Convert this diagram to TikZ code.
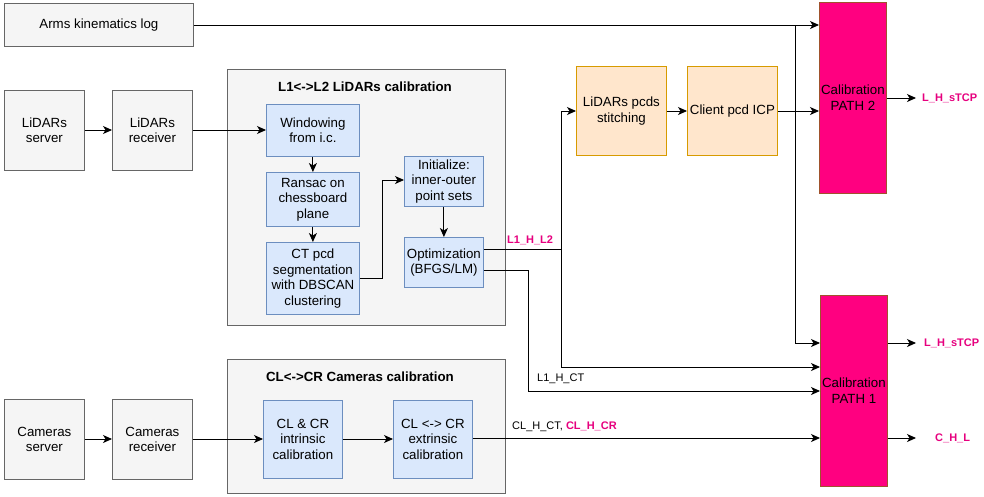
\documentclass[tikz,border=0pt]{standalone}
\usepackage{fontspec}
\setmainfont{Liberation Sans}
\usetikzlibrary{arrows.meta,calc}
\definecolor{grayfill}{HTML}{F5F5F5}
\definecolor{grayline}{HTML}{666666}
\definecolor{bluefill}{HTML}{DAE8FC}
\definecolor{blueline}{HTML}{6C8EBF}
\definecolor{orangefill}{HTML}{FFE6CC}
\definecolor{orangeline}{HTML}{D79B00}
\definecolor{pathfill}{HTML}{FF0080}
\definecolor{pathline}{HTML}{A0522D}
\definecolor{labelpink}{HTML}{E6007E}
\tikzset{
  x=1pt, y=-1pt,
  base/.style={anchor=north west, inner sep=0pt, align=center, line width=0.8pt,
    font=\fontsize{13.3}{15.5}\selectfont},
  graybox/.style={base, draw=grayline, fill=grayfill},
  groupbox/.style={base, draw=grayline, fill=grayfill},
  bluebox/.style={base, draw=blueline, fill=bluefill},
  orangebox/.style={base, draw=orangeline, fill=orangefill},
  pathbox/.style={base, draw=pathline, fill=pathfill},
  grouptitle/.style={font=\fontsize{13.3}{15.5}\selectfont\bfseries, inner sep=0pt},
  conn/.style={draw, line width=0.9pt, -{Stealth[length=9pt,width=8pt,inset=2.5pt]}},
  plain/.style={draw, line width=0.9pt},
  outlabel/.style={font=\fontsize{11}{13}\selectfont\bfseries, text=labelpink, anchor=west, inner sep=0pt},
  edgelabel/.style={font=\fontsize{11}{13}\selectfont, anchor=south west, inner sep=0pt},
}
\begin{document}
\begin{tikzpicture}
\useasboundingbox (0,0) rectangle (984,496);

% group containers
\node[groupbox, minimum width=278, minimum height=256] (lgroup) at (227,69) {};
\node[grouptitle] (ltitle) at (365,87) {L1<->L2 LiDARs calibration};
\node[groupbox, minimum width=278, minimum height=134] (cgroup) at (227,359) {};
\node[grouptitle] (ctitle) at (360,377) {CL<->CR Cameras calibration};

% sources
\node[graybox, minimum width=189, minimum height=43] (arms) at (4,3) {Arms kinematics log};
\node[graybox, minimum width=80, minimum height=80] (lserv) at (4,90) {LiDARs\\server};
\node[graybox, minimum width=80, minimum height=80] (lrecv) at (112,90) {LiDARs\\receiver};
\node[graybox, minimum width=80, minimum height=80] (cserv) at (4,399) {Cameras\\server};
\node[graybox, minimum width=80, minimum height=80] (crecv) at (112,399) {Cameras\\receiver};

% LiDAR calibration steps
\node[bluebox, minimum width=93, minimum height=52] (win) at (266,104) {Windowing\\from i.c.};
\node[bluebox, minimum width=93, minimum height=54] (ran) at (266,172) {Ransac on\\chessboard\\plane};
\node[bluebox, minimum width=93, minimum height=72] (ct) at (266,242) {CT pcd\\segmentation\\with DBSCAN\\clustering};
\node[bluebox, minimum width=79, minimum height=50] (init) at (404,156) {Initialize:\\inner-outer\\point sets};
\node[bluebox, minimum width=79, minimum height=50] (opt) at (404,237) {Optimization\\(BFGS/LM)};

% camera calibration steps
\node[bluebox, minimum width=79, minimum height=78] (intr) at (263,400) {CL \& CR\\intrinsic\\calibration};
\node[bluebox, minimum width=79, minimum height=78] (extr) at (393,400) {CL <-> CR\\extrinsic\\calibration};

% point cloud stitching
\node[orangebox, minimum width=90, minimum height=89] (stitch) at (576,66) {LiDARs pcds\\stitching};
\node[orangebox, minimum width=90, minimum height=89] (icp) at (687,66) {Client pcd ICP};

% calibration paths
\node[pathbox, minimum width=67, minimum height=191] (path2) at (819,2) {Calibration\\PATH 2};
\node[pathbox, minimum width=67, minimum height=191] (path1) at (820,295) {Calibration\\PATH 1};

% routing points
\coordinate (armsdrop) at (795,25);
\coordinate (l2split) at (561,249);
\coordinate (ctbend) at (528,270);
\coordinate (ctup) at (382,180);

% connectors
\draw[conn] (arms.east |- armsdrop) -- (path2.west |- armsdrop);
\draw[conn] (armsdrop) -- (armsdrop |- 0,343) -- (path1.west |- 0,343);
\draw[conn] (lserv.east |- 0,130) -- (lrecv.west |- 0,130);
\draw[conn] (lrecv.east |- 0,130) -- (win.west |- 0,130);
\draw[conn] (win) -- (ran);
\draw[conn] (ran) -- (ct);
\draw[conn] (ct.east |- 0,278) -| (ctup) -- (init.west |- ctup);
\draw[conn] (init) -- (opt);
\draw[plain] (opt.east |- l2split) -- (l2split);
\draw[conn] (l2split) -- (l2split |- 0,111) -- (stitch.west |- 0,111);
\draw[conn] (l2split) -- (l2split |- 0,367) -- (path1.west |- 0,367);
\draw[conn] (opt.east |- ctbend) -- (ctbend) -- (ctbend |- 0,391) -- (path1.west |- 0,391);
\draw[conn] (stitch.east |- 0,111) -- (icp.west |- 0,111);
\draw[conn] (icp.east |- 0,111) -- (path2.west |- 0,111);
\draw[conn] (cserv.east |- 0,439) -- (crecv.west |- 0,439);
\draw[conn] (crecv.east |- 0,439) -- (intr.west |- 0,439);
\draw[conn] (intr.east |- 0,439) -- (extr.west |- 0,439);
\draw[conn] (extr.east |- 0,438) -- (path1.west |- 0,438);

% outputs
\coordinate (o2) at (916,98);
\coordinate (o1a) at (916,343);
\coordinate (o1b) at (916,438);
\draw[conn] (path2.east |- o2) -- (o2);
\draw[conn] (path1.east |- o1a) -- (o1a);
\draw[conn] (path1.east |- o1b) -- (o1b);
\node[outlabel] (lab2) at (922,98) {L\_H\_sTCP};
\node[outlabel] (lab1a) at (924,343) {L\_H\_sTCP};
\node[outlabel] (lab1b) at (935,438) {C\_H\_L};

% edge labels
\node[edgelabel, font=\fontsize{11}{13}\selectfont\bfseries, text=labelpink] (l2lab) at (507,245) {L1\_H\_L2};
\node[edgelabel] (ctlab) at (537,384) {L1\_H\_CT};
\node[edgelabel] (crlab) at (512,432) {CL\_H\_CT, \textcolor{labelpink}{\bfseries CL\_H\_CR}};
\end{tikzpicture}
\end{document}
